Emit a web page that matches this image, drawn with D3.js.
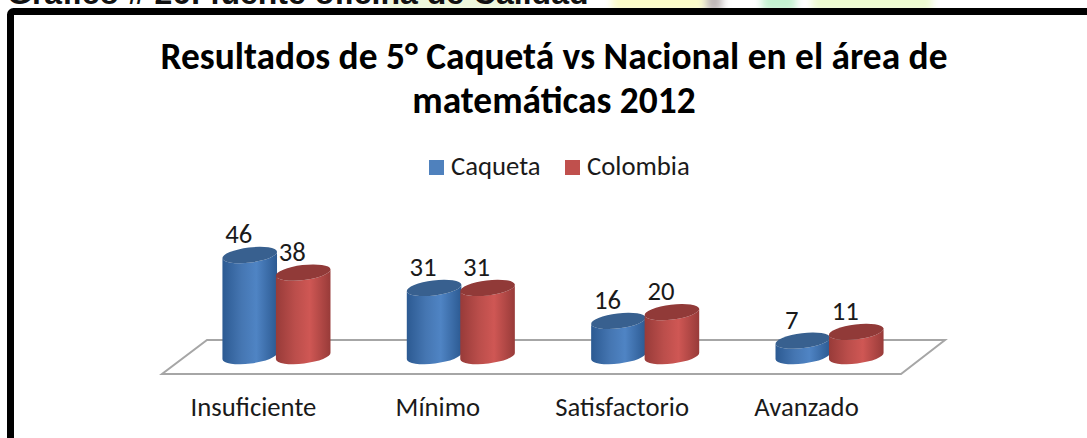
<!DOCTYPE html>
<html>
<head>
<meta charset="utf-8">
<script src="https://cdn.jsdelivr.net/npm/d3@7"></script>
<style>
  html, body { margin: 0; padding: 0; background: #fff; overflow: hidden; }
  text { font-family: Carlito, Calibri, "Open Sans", "Noto Sans", sans-serif; fill: #1a1a1a; }
</style>
</head>
<body>
<script>
const width = 1087;
const height = 438;

// Values
const categories = ["Insuficiente", "Mínimo", "Satisfactorio", "Avanzado"];
const seriesNames = ["Caqueta", "Colombia"];
const caqueta = [46, 31, 16, 7];
const colombia = [38, 31, 20, 11];
const titleLines = ["Resultados de 5° Caquetá vs Nacional en el área de", "matemáticas 2012"];

const svg = d3.select("body").append("svg").attr("width", width).attr("height", height);
const defs = svg.append("defs");

// side shading of the cylinders
function sideGradient(id, edge, mid, light) {
  const g = defs.append("linearGradient").attr("id", id);
  g.append("stop").attr("offset", "0%").attr("stop-color", edge);
  g.append("stop").attr("offset", "35%").attr("stop-color", mid);
  g.append("stop").attr("offset", "62%").attr("stop-color", light);
  g.append("stop").attr("offset", "100%").attr("stop-color", edge);
}
sideGradient("side0", "#2c5a92", "#4576b2", "#4f84c4");
sideGradient("side1", "#983b39", "#bb4e4b", "#cf5754");
defs.append("filter").attr("id", "soft").append("feGaussianBlur").attr("stdDeviation", 4);

const colors = ["#4f81bd", "#c0504d"];
const topColors = ["#38608f", "#913a38"];

// page picture showing above the frame
const patches = [
  [385, 135, "#eef8dc"],
  [612, 92, "#fbfbc8"],
  [706, 16, "#bdb5b5"],
  [762, 34, "#c4f2d0"],
  [812, 120, "#eefbd0"]
];
svg.append("g").attr("filter", "url(#soft)").selectAll("rect").data(patches).join("rect")
  .attr("x", (d) => d[0]).attr("y", -10).attr("width", (d) => d[1]).attr("height", 22)
  .attr("fill", (d) => d[2]);

// leftover page heading and the frame round the chart
svg.append("text").attr("x", 7).attr("y", 4)
  .style("font-family", "'Liberation Sans', Arial, sans-serif")
  .style("font-weight", "bold").style("font-size", "32px").style("fill", "#111")
  .text("Gráfico # 26: fuente oficina de Calidad");
svg.append("rect").attr("x", 10.5).attr("y", 11.5).attr("width", width + 40).attr("height", height + 40)
  .attr("rx", 3)
  .attr("fill", "#fff").attr("stroke", "#000").attr("stroke-width", 7);

// Scales
const x0 = d3.scaleBand().domain(categories).range([223, 883]).paddingInner(0.42).paddingOuter(0);
const x1 = d3.scaleBand().domain(seriesNames).range([0, x0.bandwidth()]);
const y = d3.scaleLinear().domain([0, 46]).range([356, 255]);

// Title
svg.append("g").selectAll("text").data(titleLines).join("text")
  .attr("x", 554).attr("y", (d, i) => 69 + i * 44)
  .attr("text-anchor", "middle")
  .style("font-size", "37.4px").style("font-weight", "bold").style("fill", "#000")
  .text((d) => d);

// Legend
const legendX = [429, 565];
const legend = svg.append("g").selectAll("g").data(seriesNames).join("g")
  .attr("transform", (d, i) => `translate(${legendX[i]},160)`);
legend.append("rect").attr("width", 15).attr("height", 15).attr("fill", (d, i) => colors[i]);
legend.append("text").attr("x", 22).attr("y", 15).style("font-size", "26.7px").text((d) => d);

// Floor
const floor = d3.line();
svg.append("path")
  .attr("d", floor([[207, 340], [945, 340], [901, 374], [162, 374]]) + "Z")
  .attr("fill", "#fff").attr("stroke", "#a6a6a6").attr("stroke-width", 2);

// Cylinders, tilted ellipse ends
const rx = 27.5, ry = 7.5, tilt = 7;
const dx = rx * Math.cos((tilt * Math.PI) / 180);
const dy = rx * Math.sin((tilt * Math.PI) / 180);

function sidePath(cx, top, base) {
  return `M${cx - dx},${top + dy}L${cx - dx},${base + dy}`
    + `A${rx},${ry} ${-tilt} 0 0 ${cx + dx},${base - dy}`
    + `L${cx + dx},${top - dy}`
    + `A${rx},${ry} ${-tilt} 0 1 ${cx - dx},${top + dy}Z`;
}

const cols = [];
categories.forEach((c, i) => {
  cols.push({ cat: c, s: 0, v: caqueta[i] });
  cols.push({ cat: c, s: 1, v: colombia[i] });
});
const cx = (d) => x0(d.cat) + x1(seriesNames[d.s]) + x1.bandwidth() / 2;

const bars = svg.append("g").selectAll("g").data(cols).join("g");
bars.append("path")
  .attr("d", (d) => sidePath(cx(d), y(d.v), y(0)))
  .attr("fill", (d) => `url(#side${d.s})`);
bars.append("ellipse")
  .attr("rx", rx).attr("ry", ry)
  .attr("transform", (d) => `translate(${cx(d)},${y(d.v)}) rotate(${-tilt})`)
  .attr("fill", (d) => topColors[d.s]);

// Value labels
bars.append("text")
  .attr("x", (d) => cx(d) - 11)
  .attr("y", (d) => y(d.v) - 12)
  .attr("text-anchor", "middle")
  .style("font-size", "26.7px")
  .text((d) => d.v);

// Category labels
svg.append("g").selectAll("text").data(categories).join("text")
  .attr("x", (d) => x0(d) + x0.bandwidth() / 2 - 23)
  .attr("y", 416)
  .attr("text-anchor", "middle")
  .style("font-size", "26.7px")
  .text((d) => d);
</script>
</body>
</html>
